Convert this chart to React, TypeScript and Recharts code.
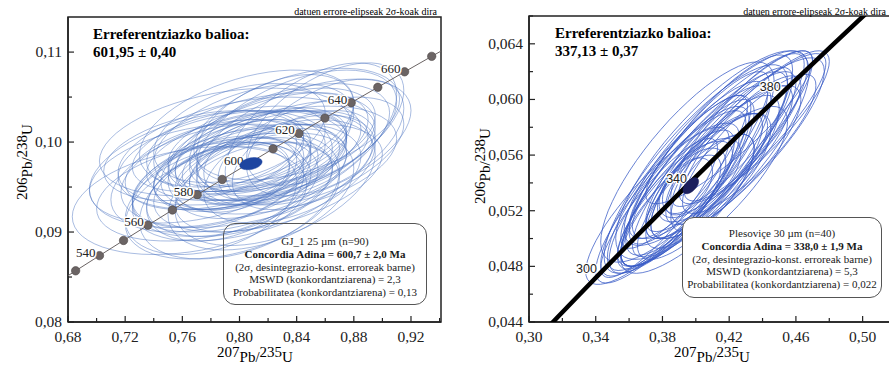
import { ReferenceArea, Scatter, ScatterChart, XAxis, YAxis } from "recharts";

const SERIF = '"Liberation Serif", "Times New Roman", serif';
const SANS = '"Liberation Sans", Arial, sans-serif';

// decay constants, per Ma
const L238 = 1.55125e-4;
const L235 = 9.8485e-4;

// concordia ages (Ma)
const gjAges = [520, 530, 540, 550, 560, 570, 580, 590, 600, 610, 620, 630, 640, 650, 660, 670, 680];
const gjLabelAges = [540, 560, 580, 600, 620, 640, 660];
const plAges = [270, 280, 290, 300, 310, 320, 330, 340, 350, 360, 370, 380, 390, 400, 410, 420];
const plLabelAges = [300, 340, 380];

// GJ_1 spot ellipses: centre 207/235, centre 206/238, 2s errors, correlation
const gjX = [0.800, 0.795, 0.810, 0.805, 0.790, 0.815, 0.800, 0.785, 0.820, 0.810, 0.795, 0.825, 0.780, 0.805, 0.830, 0.790, 0.815, 0.800, 0.775, 0.835, 0.810, 0.795, 0.820, 0.785, 0.805, 0.840, 0.850, 0.845, 0.765, 0.790, 0.830, 0.840, 0.800, 0.780, 0.815, 0.825, 0.770, 0.860, 0.800, 0.810, 0.795, 0.820, 0.805, 0.790, 0.835, 0.850, 0.775, 0.815, 0.800, 0.825, 0.785, 0.810, 0.830, 0.795, 0.860, 0.805, 0.780, 0.820, 0.800, 0.845];
const gjY = [0.0975, 0.0970, 0.0980, 0.0985, 0.0965, 0.0990, 0.0960, 0.0955, 0.0995, 0.0970, 0.0980, 0.0985, 0.0960, 0.0995, 0.1000, 0.0950, 0.0965, 0.0990, 0.0945, 0.0990, 0.1005, 0.0960, 0.0975, 0.0975, 0.0955, 0.1010, 0.1010, 0.1000, 0.0935, 0.1000, 0.0980, 0.1020, 0.0940, 0.0935, 0.0945, 0.1015, 0.0965, 0.1005, 0.1010, 0.0950, 0.0985, 0.0960, 0.0970, 0.0945, 0.0970, 0.0990, 0.0985, 0.1000, 0.0965, 0.0955, 0.0990, 0.0985, 0.1005, 0.0935, 0.1020, 0.1015, 0.0970, 0.0990, 0.0950, 0.0980];
const gjSX = [0.060, 0.055, 0.065, 0.070, 0.050, 0.060, 0.075, 0.060, 0.070, 0.045, 0.080, 0.065, 0.070, 0.055, 0.075, 0.065, 0.060, 0.085, 0.075, 0.060, 0.070, 0.040, 0.050, 0.065, 0.080, 0.070, 0.060, 0.075, 0.082, 0.088, 0.080, 0.072, 0.070, 0.060, 0.065, 0.055, 0.075, 0.055, 0.060, 0.055, 0.045, 0.080, 0.088, 0.055, 0.060, 0.065, 0.070, 0.080, 0.035, 0.070, 0.060, 0.040, 0.065, 0.075, 0.055, 0.075, 0.085, 0.055, 0.065, 0.050];
const gjSY = [0.0050, 0.0045, 0.0055, 0.0050, 0.0042, 0.0048, 0.0060, 0.0050, 0.0060, 0.0040, 0.0055, 0.0050, 0.0060, 0.0045, 0.0065, 0.0055, 0.0050, 0.0060, 0.0055, 0.0055, 0.0060, 0.0038, 0.0045, 0.0050, 0.0065, 0.0070, 0.0078, 0.0070, 0.0060, 0.0060, 0.0060, 0.0062, 0.0070, 0.0060, 0.0065, 0.0060, 0.0055, 0.0065, 0.0055, 0.0050, 0.0040, 0.0060, 0.0065, 0.0055, 0.0060, 0.0060, 0.0050, 0.0055, 0.0035, 0.0070, 0.0045, 0.0040, 0.0055, 0.0065, 0.0068, 0.0065, 0.0065, 0.0045, 0.0055, 0.0055];
const gjRho = [0.45, 0.40, 0.45, 0.40, 0.35, 0.45, 0.45, 0.40, 0.50, 0.35, 0.35, 0.45, 0.40, 0.40, 0.50, 0.35, 0.45, 0.40, 0.35, 0.45, 0.45, 0.30, 0.40, 0.40, 0.45, 0.50, 0.55, 0.50, 0.30, 0.35, 0.40, 0.45, 0.40, 0.35, 0.40, 0.45, 0.35, 0.50, 0.40, 0.40, 0.35, 0.45, 0.40, 0.35, 0.45, 0.50, 0.35, 0.40, 0.30, 0.45, 0.40, 0.35, 0.45, 0.40, 0.55, 0.45, 0.35, 0.40, 0.40, 0.45];

// Plesovice spot ellipses
const plX = [0.400, 0.405, 0.395, 0.410, 0.390, 0.420, 0.430, 0.425, 0.385, 0.380, 0.398, 0.395, 0.402, 0.392, 0.405, 0.415, 0.435, 0.388, 0.400, 0.410, 0.395, 0.420, 0.408, 0.390, 0.415, 0.400, 0.425, 0.385, 0.412, 0.398, 0.418, 0.432, 0.378, 0.402, 0.393, 0.410, 0.428, 0.388, 0.405, 0.420, 0.410, 0.395];
const plY = [0.0545, 0.0550, 0.0540, 0.0555, 0.0535, 0.0570, 0.0575, 0.0565, 0.0530, 0.0525, 0.0540, 0.0538, 0.0542, 0.0535, 0.0545, 0.0560, 0.0580, 0.0528, 0.0550, 0.0548, 0.0545, 0.0560, 0.0560, 0.0540, 0.0550, 0.0530, 0.0578, 0.0520, 0.0565, 0.0535, 0.0555, 0.0568, 0.0522, 0.0558, 0.0548, 0.0540, 0.0572, 0.0538, 0.0535, 0.0580, 0.0560, 0.0555];
const plSX = [0.045, 0.050, 0.040, 0.048, 0.042, 0.050, 0.048, 0.052, 0.045, 0.046, 0.020, 0.015, 0.025, 0.030, 0.035, 0.045, 0.045, 0.035, 0.055, 0.040, 0.048, 0.038, 0.050, 0.030, 0.030, 0.035, 0.040, 0.030, 0.055, 0.045, 0.045, 0.040, 0.035, 0.042, 0.038, 0.025, 0.035, 0.045, 0.050, 0.050, 0.058, 0.052];
const plSY = [0.0065, 0.0070, 0.0060, 0.0068, 0.0060, 0.0065, 0.0058, 0.0065, 0.0062, 0.0058, 0.0025, 0.0020, 0.0030, 0.0035, 0.0045, 0.0060, 0.0055, 0.0050, 0.0075, 0.0055, 0.0068, 0.0050, 0.0072, 0.0040, 0.0040, 0.0045, 0.0055, 0.0040, 0.0070, 0.0055, 0.0055, 0.0050, 0.0050, 0.0062, 0.0055, 0.0035, 0.0045, 0.0065, 0.0060, 0.0055, 0.0075, 0.0072];
const plRho = [0.85, 0.86, 0.85, 0.88, 0.84, 0.88, 0.88, 0.85, 0.86, 0.84, 0.60, 0.50, 0.65, 0.75, 0.80, 0.86, 0.86, 0.82, 0.84, 0.82, 0.86, 0.82, 0.85, 0.78, 0.72, 0.78, 0.86, 0.78, 0.84, 0.84, 0.82, 0.84, 0.86, 0.86, 0.86, 0.70, 0.84, 0.86, 0.82, 0.88, 0.80, 0.80];

// concordia age ellipses (centre, 2s, rho)
const gjMean = { x: [0.808], y: [0.0976], sx: [0.0078], sy: [0.00068], rho: [0.3] };
const plMean = { x: [0.397], y: [0.0538], sx: [0.0047], sy: [0.00058], rho: [0.55] };

// axis ticks
const gjXTicks = [0.68, 0.70, 0.72, 0.74, 0.76, 0.78, 0.80, 0.82, 0.84, 0.86, 0.88, 0.90, 0.92, 0.94];
const gjYTicks = [0.08, 0.085, 0.09, 0.095, 0.10, 0.105, 0.11];
const plXTicks = [0.30, 0.32, 0.34, 0.36, 0.38, 0.40, 0.42, 0.44, 0.46, 0.48, 0.50, 0.52];
const plYTicks = [0.044, 0.046, 0.048, 0.050, 0.052, 0.054, 0.056, 0.058, 0.060, 0.062, 0.064, 0.066];

const SEG = 60;

function outlines(xs: number[], ys: number[], sxs: number[], sys: number[], rhos: number[]) {
  const pts: { x: number; y: number }[] = [];
  xs.forEach((cx, i) => {
    const r = rhos[i];
    const q = Math.sqrt(1 - r * r);
    for (let k = 0; k <= SEG; k++) {
      const a = (2 * Math.PI * k) / SEG;
      pts.push({ x: cx + sxs[i] * Math.cos(a), y: ys[i] + sys[i] * (r * Math.cos(a) + q * Math.sin(a)) });
    }
  });
  return pts;
}

const concordia = (ages: number[]) =>
  ages.map((t) => ({ x: Math.exp(L235 * t) - 1, y: Math.exp(L238 * t) - 1, age: t }));

const gjData = outlines(gjX, gjY, gjSX, gjSY, gjRho);
const plData = outlines(plX, plY, plSX, plSY, plRho);
const gjMeanData = outlines(gjMean.x, gjMean.y, gjMean.sx, gjMean.sy, gjMean.rho);
const plMeanData = outlines(plMean.x, plMean.y, plMean.sx, plMean.sy, plMean.rho);
const gjCurve = concordia(gjAges);
const plCurve = concordia(plAges);

// draws every SEG+1 points of the scatter as its own closed ellipse
function ellipsePaths(stroke: string, width: number, opacity: number, fill = "none") {
  return (props: any) => {
    const pts = props.points || [];
    const n = SEG + 1;
    const paths = [];
    for (let i = 0; i + n <= pts.length; i += n) {
      const d =
        pts
          .slice(i, i + n)
          .map((p: any, k: number) => `${k ? "L" : "M"}${p.x.toFixed(1)},${p.y.toFixed(1)}`)
          .join("") + "Z";
      paths.push(<path key={i} d={d} fill={fill} stroke={stroke} strokeWidth={width} strokeOpacity={opacity} />);
    }
    return <g>{paths}</g>;
  };
}

const noDot = () => <g />;

const near = (list: number[], v: number) => list.some((m) => Math.abs(m - v) < 1e-7);

function xTick(majors: number[], decimals: number) {
  return (props: any) => {
    const { x, y, payload } = props;
    const major = near(majors, payload.value);
    return (
      <g>
        <line x1={x} y1={y} x2={x} y2={y - (major ? 6 : 4)} stroke="#222" strokeWidth={1.2} />
        {major && (
          <text x={x} y={y + 20} textAnchor="middle" fontFamily={SERIF} fontSize={15.5} fill="#222">
            {payload.value.toFixed(decimals).replace(".", ",")}
          </text>
        )}
      </g>
    );
  };
}

function yTick(majors: number[], decimals: number) {
  return (props: any) => {
    const { x, y, payload } = props;
    const major = near(majors, payload.value);
    return (
      <g>
        <line x1={x} y1={y} x2={x + (major ? 6 : 4)} y2={y} stroke="#222" strokeWidth={1.2} />
        {major && (
          <text x={x - 6} y={y + 5} textAnchor="end" fontFamily={SERIF} fontSize={15.5} fill="#222">
            {payload.value.toFixed(decimals).replace(".", ",")}
          </text>
        )}
      </g>
    );
  };
}

const GjNode = (props: any) => {
  const { cx, cy, payload } = props;
  return (
    <g>
      <circle cx={cx} cy={cy} r={4.2} fill="#6b6464" stroke="#4b4545" strokeWidth={0.6} />
      {gjLabelAges.includes(payload.age) && (
        <text x={cx - 4} y={cy + 1} textAnchor="end" fontFamily={SERIF} fontSize={13} fill="#222"
          stroke="#fff" strokeWidth={3} paintOrder="stroke">
          {payload.age}
        </text>
      )}
    </g>
  );
};

const PlNode = (props: any) => {
  const { cx, cy, payload } = props;
  if (!plLabelAges.includes(payload.age)) return <g />;
  return (
    <text x={cx - 5} y={cy + 2} textAnchor="end" fontFamily={SANS} fontSize={12.5} fill="#222"
      stroke="#fff" strokeWidth={2.5} paintOrder="stroke">
      {payload.age}
    </text>
  );
};

function RatioTitle({ top, bottom }: { top: string; bottom: string }) {
  return (
    <span style={{ fontFamily: SERIF, fontSize: 15, whiteSpace: "nowrap" }}>
      {top}
      <span style={{ position: "relative", top: 5 }}>Pb/</span>
      {bottom}
      <span style={{ position: "relative", top: 5 }}>U</span>
    </span>
  );
}

const abs = (s: any) => ({ position: "absolute" as const, ...s });

const boxStyle = {
  border: "1px solid #555",
  borderRadius: 12,
  boxSizing: "border-box" as const,
  textAlign: "center" as const,
  fontFamily: SERIF,
  fontSize: 11,
  lineHeight: "12.8px",
  whiteSpace: "nowrap" as const,
  color: "#1a1a1a",
};

export default function App() {
  return (
    <div style={{ position: "fixed", left: 0, top: 0, width: 889, height: 365, overflow: "hidden", background: "#fff" }}>
      <div style={abs({ left: 0, top: 0 })}>
        <ScatterChart width={445} height={365} margin={{ top: 17, right: 4, bottom: 13, left: 8 }}>
          <XAxis type="number" dataKey="x" domain={[0.68, 0.941]} allowDataOverflow ticks={gjXTicks}
            interval={0} height={30} tickSize={0} tickMargin={0} tickLine={false}
            axisLine={{ stroke: "#222", strokeWidth: 1.5 }} tick={xTick([0.68, 0.72, 0.76, 0.80, 0.84, 0.88, 0.92], 2)} />
          <YAxis type="number" dataKey="y" domain={[0.08, 0.1139]} allowDataOverflow ticks={gjYTicks}
            interval={0} width={60} tickSize={0} tickMargin={0} tickLine={false}
            axisLine={{ stroke: "#222", strokeWidth: 1.5 }} tick={yTick([0.08, 0.09, 0.10, 0.11], 2)} />
          <ReferenceArea x1={0.68} x2={0.941} y1={0.08} y2={0.1139} fill="none" stroke="#222" strokeWidth={1.5} />
          <Scatter data={gjData} line={ellipsePaths("#4a72c0", 0.8, 0.6)} shape={noDot} isAnimationActive={false} />
          <Scatter data={gjCurve} line={{ stroke: "#6b6464", strokeWidth: 1 }} shape={GjNode} isAnimationActive={false} />
          <Scatter data={gjMeanData} line={ellipsePaths("#1e45a0", 0.5, 1, "#1e45a0")} shape={noDot} isAnimationActive={false} />
        </ScatterChart>
      </div>
      <div style={abs({ left: 445, top: 0 })}>
        <ScatterChart width={460} height={365} margin={{ top: 16, right: 9, bottom: 13, left: 24 }}>
          <XAxis type="number" dataKey="x" domain={[0.30, 0.52]} allowDataOverflow ticks={plXTicks}
            interval={0} height={30} tickSize={0} tickMargin={0} tickLine={false}
            axisLine={{ stroke: "#222", strokeWidth: 1.5 }} tick={xTick([0.30, 0.34, 0.38, 0.42, 0.46, 0.50], 2)} />
          <YAxis type="number" dataKey="y" domain={[0.044, 0.066]} allowDataOverflow ticks={plYTicks}
            interval={0} width={60} tickSize={0} tickMargin={0} tickLine={false}
            axisLine={{ stroke: "#222", strokeWidth: 1.5 }} tick={yTick([0.044, 0.048, 0.052, 0.056, 0.060, 0.064], 3)} />
          <ReferenceArea x1={0.30} x2={0.52} y1={0.044} y2={0.066} fill="none" stroke="#222" strokeWidth={1.5} />
          <Scatter data={plData} line={ellipsePaths("#3a5cc6", 0.9, 0.85)} shape={noDot} isAnimationActive={false} />
          <Scatter data={plCurve} line={{ stroke: "#000", strokeWidth: 4.5 }} shape={PlNode} isAnimationActive={false} />
          <Scatter data={plMeanData} line={ellipsePaths("#1b1f5c", 0.5, 1, "#1b1f5c")} shape={noDot} isAnimationActive={false} />
        </ScatterChart>
      </div>

      {/* top notes */}
      <div style={abs({ right: 889 - 437, top: 6, fontFamily: SERIF, fontSize: 10, lineHeight: "12px", whiteSpace: "nowrap" })}>
        datuen errore-elipseak 2σ-koak dira
      </div>
      <div style={abs({ right: 3, top: 6, fontFamily: SERIF, fontSize: 10, lineHeight: "12px", whiteSpace: "nowrap" })}>
        datuen errore-elipseak 2σ-koak dira
      </div>

      {/* reference values */}
      <div style={abs({ left: 93, top: 25, fontFamily: SERIF, fontSize: 15, fontWeight: "bold", lineHeight: "18px" })}>
        Erreferentziazko balioa:<br />601,95 ± 0,40
      </div>
      <div style={abs({ left: 555, top: 24, fontFamily: SERIF, fontSize: 15, fontWeight: "bold", lineHeight: "18px" })}>
        Erreferentziazko balioa:<br />337,13 ± 0,37
      </div>

      {/* result boxes */}
      <div style={abs({ ...boxStyle, left: 223, top: 223, width: 204, height: 82, paddingTop: 11 })}>
        GJ_1 25 µm (n=90)<br />
        <b>Concordia Adina = 600,7 ± 2,0 Ma</b><br />
        (2σ, desintegrazio-konst. erroreak barne)<br />
        MSWD (konkordantziarena) = 2,3<br />
        Probabilitatea (konkordantziarena) = 0,13
      </div>
      <div style={abs({ ...boxStyle, left: 682, top: 217, width: 200, height: 81, paddingTop: 9, background: "#fff" })}>
        Plesoviçe 30 µm (n=40)<br />
        <b>Concordia Adina = 338,0 ± 1,9 Ma</b><br />
        (2σ, desintegrazio-konst. erroreak barne)<br />
        MSWD (konkordantziarena) = 5,3<br />
        Probabilitatea (konkordantziarena) = 0,022
      </div>

      {/* axis titles */}
      <div style={abs({ left: 155, top: 344, width: 200, textAlign: "center", lineHeight: "16px" })}>
        <RatioTitle top="207" bottom="235" />
      </div>
      <div style={abs({ left: 612, top: 344, width: 200, textAlign: "center", lineHeight: "16px" })}>
        <RatioTitle top="207" bottom="235" />
      </div>
      <div style={abs({ left: 22 - 100, top: 162 - 8, width: 200, textAlign: "center", lineHeight: "16px", transform: "rotate(-90deg)" })}>
        <RatioTitle top="206" bottom="238" />
      </div>
      <div style={abs({ left: 480 - 100, top: 166 - 8, width: 200, textAlign: "center", lineHeight: "16px", transform: "rotate(-90deg)" })}>
        <RatioTitle top="206" bottom="238" />
      </div>
    </div>
  );
}
